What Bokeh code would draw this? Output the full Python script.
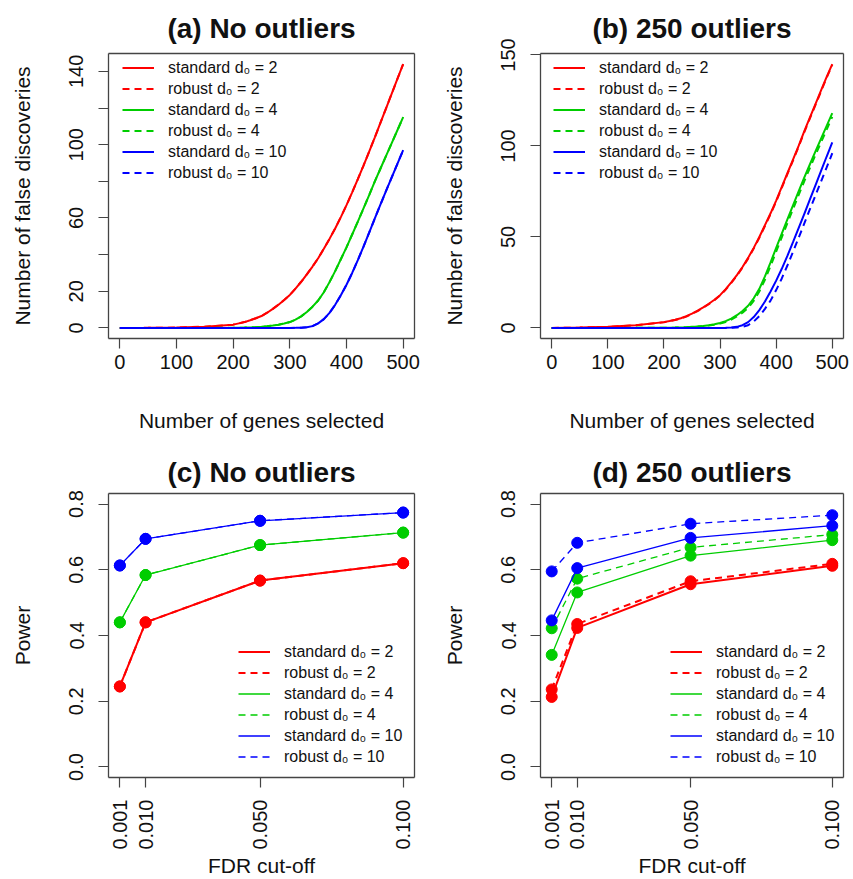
import math
from bokeh.plotting import figure
from bokeh.models import FixedTicker, PrintfTickFormatter, Legend, LegendItem, Range1d, LinearAxis
from bokeh.layouts import column, row
from bokeh.embed import file_html
from bokeh.resources import INLINE

# ---------------- data ----------------
genes = [0, 50, 100, 150, 200, 210, 220, 230, 240, 250, 260, 270, 280, 290, 300,
         310, 320, 330, 340, 350, 360, 370, 380, 390, 400,
         410, 420, 430, 440, 450, 460, 470, 480, 490, 500]

# (a) No outliers
a_std_2 = [0, 0.05, 0.2, 0.7, 1.8, 2.5, 3.2, 4.2, 5.3, 6.5, 8.3, 10.4, 12.7, 15.2, 18,
           21.5, 25.2, 29.2, 33.5, 38, 43.2, 48.6, 54.3, 60.5, 67,
           74, 81.2, 88.6, 96.2, 104, 112, 120, 128, 136, 144]
a_std_4 = [0, 0, 0, 0.03, 0.1, 0.15, 0.2, 0.3, 0.4, 0.6, 0.9, 1.3, 1.8, 2.4, 3.2,
           4.5, 6.3, 8.7, 11.6, 15, 19.5, 25, 31, 37.5, 44,
           51, 58, 65.2, 72.5, 80, 87, 94, 101, 108, 115]
a_std_10 = [0, 0, 0, 0, 0, 0, 0, 0, 0, 0, 0, 0, 0, 0, 0,
            0.05, 0.15, 0.4, 1.0, 2.5, 4.8, 8.2, 12.6, 17.8, 23.6,
            30.0, 37.0, 44.4, 52.0, 59.8, 67.4, 74.9, 82.3, 89.7, 97]
a_rob_2 = list(a_std_2)
a_rob_4 = list(a_std_4)
a_rob_10 = list(a_std_10)

# (b) 250 outliers
b_std_2 = [0, 0.2, 0.6, 1.5, 3.2, 3.8, 4.5, 5.3, 6.5, 7.9, 9.5, 11.3, 13.3, 15.5, 18,
           21.3, 25, 29, 33.5, 38.5, 44, 50, 56.5, 63, 70,
           77.5, 85, 92.5, 100, 108, 115.5, 123, 130.5, 138, 145]
b_rob_2 = [0, 0.2, 0.6, 1.5, 3.1, 3.7, 4.4, 5.2, 6.3, 7.7, 9.3, 11.1, 13.1, 15.3, 17.8,
           21.0, 24.7, 28.7, 33.2, 38.1, 43.6, 49.6, 56.0, 62.5, 69.5,
           77.0, 84.5, 92.0, 99.5, 107.5, 115.0, 122.5, 130.0, 137.5, 144.5]
b_std_4 = [0, 0, 0.02, 0.05, 0.1, 0.15, 0.2, 0.3, 0.4, 0.6, 0.8, 1.1, 1.5, 2.0, 2.7,
           3.7, 5.1, 7.0, 9.3, 12.2, 16.3, 21.5, 28.3, 36, 44,
           51.8, 59.6, 67.3, 75, 82.6, 89.8, 97, 104, 111, 118]
b_rob_4 = [0, 0, 0.02, 0.05, 0.1, 0.15, 0.2, 0.3, 0.4, 0.55, 0.75, 1.0, 1.35, 1.8, 2.4,
           3.3, 4.6, 6.3, 8.4, 11, 14.9, 20, 26.5, 34, 42,
           49.8, 57.6, 65.3, 73, 80.6, 87.8, 95, 102, 109, 116]
b_std_10 = [0, 0, 0, 0, 0, 0, 0, 0, 0, 0, 0, 0, 0, 0, 0,
            0.05, 0.2, 0.6, 1.5, 3.2, 6, 9.8, 14.5, 20, 26,
            32.5, 39.6, 47.1, 54.8, 62.6, 70.5, 78.4, 86.3, 94.2, 102]
b_rob_10 = [0, 0, 0, 0, 0, 0, 0, 0, 0, 0, 0, 0, 0, 0, 0,
            0, 0.05, 0.2, 0.6, 1.5, 3.5, 6.5, 10.5, 15, 20.8,
            27.2, 34.3, 41.8, 49.5, 57.3, 65.1, 72.8, 80.5, 88.2, 96]

# (c), (d) power
fdr = [0.001, 0.010, 0.050, 0.100]
c_std_2 = [0.245, 0.440, 0.567, 0.620]
c_std_4 = [0.440, 0.584, 0.675, 0.713]
c_std_10 = [0.613, 0.694, 0.749, 0.774]
c_rob_2 = [0.245, 0.440, 0.567, 0.620]
c_rob_4 = [0.440, 0.584, 0.675, 0.713]
c_rob_10 = [0.613, 0.694, 0.749, 0.774]

d_std_2 = [0.213, 0.423, 0.556, 0.612]
d_rob_2 = [0.236, 0.435, 0.565, 0.618]
d_std_4 = [0.341, 0.531, 0.643, 0.690]
d_rob_4 = [0.422, 0.573, 0.668, 0.707]
d_std_10 = [0.446, 0.605, 0.697, 0.734]
d_rob_10 = [0.595, 0.682, 0.740, 0.766]

labels = ["standard d\u2080 = 2", "robust d\u2080 = 2", "standard d\u2080 = 4",
          "robust d\u2080 = 4", "standard d\u2080 = 10", "robust d\u2080 = 10"]

RED, GREEN, BLUE = "#FF0000", "#00CD00", "#0000FF"
FONT = "Liberation Sans"
TXT = "#111111"
BOX = "#444444"


def make_fig(w, h, left, right, top, bottom, title, xr, yr, title_standoff):
    p = figure(width=w, height=h, min_border_left=left, min_border_right=right,
               min_border_top=top, min_border_bottom=bottom,
               x_range=Range1d(*xr), y_range=Range1d(*yr),
               toolbar_location=None, tools="", output_backend="svg", title=title)
    p.xgrid.visible = False
    p.ygrid.visible = False
    p.background_fill_color = "white"
    p.border_fill_color = "white"
    p.outline_line_color = None
    p.title.align = "center"
    p.title.text_font = FONT
    p.title.text_font_size = "28px"
    p.title.text_font_style = "bold"
    p.title.text_color = TXT
    p.title.standoff = title_standoff
    xa = p.below[0]
    ya = p.left[0]
    for ax in (xa, ya):
        ax.axis_line_color = BOX
        ax.axis_line_width = 1.3
        ax.major_tick_line_color = BOX
        ax.major_tick_line_width = 1.2
        ax.major_tick_out = 10
        ax.major_tick_in = 0
        ax.minor_tick_out = 0
        ax.minor_tick_in = 0
        ax.major_label_text_font = FONT
        ax.major_label_text_font_size = "20px"
        ax.major_label_text_color = TXT
        ax.axis_label_text_font = FONT
        ax.axis_label_text_font_size = "21px"
        ax.axis_label_text_font_style = "normal"
        ax.axis_label_text_color = TXT
    ya.major_label_orientation = "vertical"
    ya.major_label_standoff = 15
    ya.axis_label_standoff = 33
    # plain axes on the other two sides close the box round the plot region
    for side in ("above", "right"):
        ax = LinearAxis(ticker=FixedTicker(ticks=[]), axis_line_color=BOX, axis_line_width=1.3,
                        major_tick_out=0, major_tick_in=0, minor_tick_out=0, minor_tick_in=0,
                        major_label_standoff=0, axis_label_standoff=0)
        p.add_layout(ax, side)
    return p, xa, ya


def add_legend(p, renderers, loc):
    items = [LegendItem(label=l, renderers=[r]) for l, r in zip(labels, renderers)]
    lg = Legend(items=items, location=loc, padding=0, margin=0, spacing=0,
                glyph_width=32, glyph_height=21, label_height=21, label_standoff=14,
                label_text_font=FONT, label_text_font_size="16px", label_text_color=TXT,
                background_fill_alpha=0, border_line_alpha=0)
    p.add_layout(lg)


def curve_panel(p, series):
    rs = []
    for ys, color, dash in series:
        r = p.line(genes, ys, line_color=color, line_width=2, line_dash=dash)
        rs.append(r)
    return rs


def power_panel(p, series):
    rs = []
    for ys, color, dash in series:
        w = 2 if color == RED else 1.3
        r = p.line(fdr, ys, line_color=color, line_width=w, line_dash=dash)
        p.scatter(fdr, ys, size=11, fill_color=color, line_color=color)
        rs.append(r)
    return rs


DASH = "7 5"

# ---- top row ----
TOP_H = 440
pa, xa_a, ya_a = make_fig(425, TOP_H, 108, 11, 48, TOP_H - 48 - 290, "(a) No outliers",
                          (-20, 520), (-5.76, 149.76), 20)
pb, xa_b, ya_b = make_fig(428, TOP_H, 115, 10, 48, TOP_H - 48 - 290, "(b) 250 outliers",
                          (-20, 520), (-5.8, 150.8), 20)
for xa, ya in ((xa_a, ya_a), (xa_b, ya_b)):
    xa.axis_label = "Number of genes selected"
    ya.axis_label = "Number of false discoveries"
    xa.ticker = FixedTicker(ticks=[0, 100, 200, 300, 400, 500])
    xa.major_label_standoff = 6
    xa.axis_label_standoff = 37
ya_a.ticker = FixedTicker(ticks=[0, 20, 40, 60, 80, 100, 120, 140])
ya_a.major_label_overrides = {40: "", 80: "", 120: ""}
ya_b.ticker = FixedTicker(ticks=[0, 50, 100, 150])

ra = curve_panel(pa, [(a_std_2, RED, "solid"), (a_rob_2, RED, DASH),
                      (a_std_4, GREEN, "solid"), (a_rob_4, GREEN, DASH),
                      (a_std_10, BLUE, "solid"), (a_rob_10, BLUE, DASH)])
add_legend(pa, ra, (14, 155))
rb = curve_panel(pb, [(b_std_2, RED, "solid"), (b_rob_2, RED, DASH),
                      (b_std_4, GREEN, "solid"), (b_rob_4, GREEN, DASH),
                      (b_std_10, BLUE, "solid"), (b_rob_10, BLUE, DASH)])
add_legend(pb, rb, (13, 155))

# ---- bottom row ----
BOT_H = 439
pc, xa_c, ya_c = make_fig(425, BOT_H, 108, 11, 53, BOT_H - 53 - 290, "(c) No outliers",
                          (-0.00296, 0.10396), (-0.032, 0.832), 12)
pd_, xa_d, ya_d = make_fig(428, BOT_H, 115, 10, 53, BOT_H - 53 - 290, "(d) 250 outliers",
                           (-0.00296, 0.10396), (-0.032, 0.832), 12)
for xa, ya in ((xa_c, ya_c), (xa_d, ya_d)):
    xa.axis_label = "FDR cut-off"
    ya.axis_label = "Power"
    xa.ticker = FixedTicker(ticks=fdr)
    xa.formatter = PrintfTickFormatter(format="%.3f")
    xa.major_label_orientation = math.pi / 2
    xa.major_label_standoff = 12
    xa.axis_label_standoff = 1
    ya.ticker = FixedTicker(ticks=[0, 0.2, 0.4, 0.6, 0.8])
    ya.formatter = PrintfTickFormatter(format="%.1f")

rc = power_panel(pc, [(c_std_2, RED, "solid"), (c_rob_2, RED, DASH),
                      (c_std_4, GREEN, "solid"), (c_rob_4, GREEN, DASH),
                      (c_std_10, BLUE, "solid"), (c_rob_10, BLUE, DASH)])
add_legend(pc, rc, (130, 10))
rd = power_panel(pd_, [(d_std_2, RED, "solid"), (d_rob_2, RED, DASH),
                       (d_std_4, GREEN, "solid"), (d_rob_4, GREEN, DASH),
                       (d_std_10, BLUE, "solid"), (d_rob_10, BLUE, DASH)])
add_legend(pd_, rd, (130, 10))

layout = column(row(pa, pb), row(pc, pd_))
open("out.html", "w").write(file_html(layout, INLINE))
